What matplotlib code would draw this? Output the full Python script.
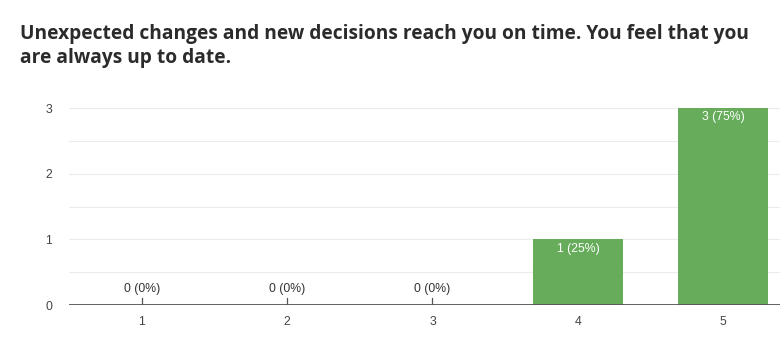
import matplotlib
matplotlib.use("Agg")
import matplotlib.pyplot as plt

categories = [1, 2, 3, 4, 5]
counts = [0, 0, 0, 1, 3]
total = sum(counts)
labels = [f"{c} ({round(100 * c / total)}%)" for c in counts]
title = "Unexpected changes and new decisions reach you on time. You feel that you\nare always up to date."

fig = plt.figure(figsize=(7.8, 3.58), dpi=100)
fig.patch.set_facecolor("white")

fig.text(20 / 780, 1 - 24 / 358, title, ha="left", va="top", fontsize=13.75,
         fontweight="bold", family="Open Sans", color="#2b2b2b", linespacing=1.3)

ax = fig.add_axes([69 / 780, 53 / 358, 711 / 780, 197 / 358])
ax.bar(categories, counts, width=0.62, color="#66ac5b", zorder=3)
ax.set_xlim(0.5, 5.39)
ax.set_ylim(0, 3)

# gridlines every 0.5
for y in [0.5, 1, 1.5, 2, 2.5, 3]:
    ax.axhline(y, color="#ececec", linewidth=0.8, zorder=1)
ax.axhline(0, color="#555555", linewidth=1.3, zorder=4)

for x, c, lab in zip(categories, counts, labels):
    if c == 0:
        ax.plot([x, x], [0, 0.1], color="#555555", linewidth=0.9, zorder=4)
        ax.text(x, 0.15, lab, ha="center", va="bottom", fontsize=8.8,
                family="Liberation Sans", color="#333333")
    else:
        ax.text(x, c - 0.05, lab, ha="center", va="top", fontsize=8.8,
                family="Liberation Sans", color="white", zorder=5)

ax.set_yticks([0, 1, 2, 3])
ax.set_xticks(categories)
ax.tick_params(length=0, labelsize=8.8, colors="#444444", pad=8)
ax.tick_params(axis="y", pad=12)
for t in ax.get_xticklabels() + ax.get_yticklabels():
    t.set_family("Liberation Sans")
for s in ax.spines.values():
    s.set_visible(False)

fig.savefig("out.png", dpi=100, facecolor="white")
